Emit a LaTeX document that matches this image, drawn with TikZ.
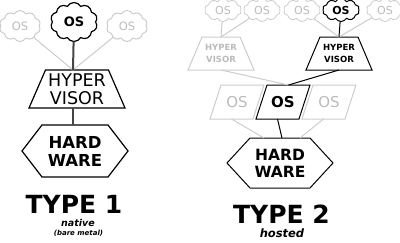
\documentclass[tikz,border=0pt]{standalone}
\usepackage{fontspec}
\setmainfont{DejaVu Sans}
\usetikzlibrary{shapes.symbols}
\definecolor{lg}{HTML}{CCCCCC}
\definecolor{lgt}{HTML}{BBBBBB}
\definecolor{dk}{HTML}{444444}
\begin{document}
\begin{tikzpicture}[x=1pt,y=-1pt,
  cl/.style={cloud, cloud puffs=10, cloud puff arc=120, cloud ignores aspect, inner sep=0pt, outer sep=0pt, draw},
  bigcl/.style={cl, minimum width=47pt, minimum height=39pt, line width=1.2pt, font=\fontsize{13}{13}\selectfont\bfseries},
  gbigcl/.style={cl, minimum width=41pt, minimum height=31pt, draw=lg, line width=1pt, text=lgt, font=\fontsize{11.5}{11.5}\selectfont},
  smcl/.style={cl, minimum width=37pt, minimum height=23pt, line width=1pt, font=\fontsize{11}{11}\selectfont\bfseries},
  gsmcl/.style={cl, minimum width=37pt, minimum height=23pt, draw=lg, line width=0.8pt, text=lgt, font=\fontsize{11}{11}\selectfont},
  shapebox/.style={inner sep=0pt, outer sep=0pt, align=center},
  glink/.style={draw=lg, line width=1pt},
  dlink/.style={draw=dk, line width=2pt},
  blink/.style={draw=black, line width=1pt},
  outline/.style={draw=black, line width=1.2pt, line join=miter},
  goutline/.style={draw=lg, line width=1pt, line join=miter},
  title/.style={inner sep=0pt, font=\fontsize{25}{25}\selectfont\bfseries},
  sub/.style={inner sep=0pt, font=\bfseries\itshape},
]
\useasboundingbox (0,0) rectangle (400,242);

% ---------------- TYPE 1 ----------------
\node[gbigcl] (c1a) at (20,26) {OS};
\node[bigcl]  (c1b) at (74,22) {OS};
\node[gbigcl] (c1c) at (127,26) {OS};

\node[shapebox, minimum width=96pt, minimum height=38pt, font=\fontsize{17.5}{18.5}\selectfont] (hv1) at (77,89) {HYPER\\VISOR};
\draw[outline] ([xshift=16.5pt]hv1.north west) -- ([xshift=-16.5pt]hv1.north east) -- (hv1.south east) -- (hv1.south west) -- cycle;

\node[shapebox, minimum width=106pt, minimum height=52pt, font=\fontsize{16.5}{18}\selectfont\bfseries] (hw1) at (75,151) {HARD\\WARE};
\draw[outline] ([xshift=20pt]hw1.north west) -- ([xshift=-20pt]hw1.north east) -- (hw1.east) -- ([xshift=-20pt]hw1.south east) -- ([xshift=20pt]hw1.south west) -- (hw1.west) -- cycle;

\draw[glink] (c1a) -- ([xshift=-4pt]hv1.north);
\draw[glink] (c1c) -- ([xshift=-4pt]hv1.north);
\draw[dlink] (c1b) -- ([xshift=-4pt]hv1.north);
\draw[dlink] ([xshift=-4pt]hv1.south) -- ([xshift=-2pt]hw1.north);

\node[title] (ty1) at (74,204) {TYPE 1};
\node[sub, font=\fontsize{9.5}{9.5}\selectfont\bfseries\itshape] (nat) at (78,222.5) {native};
\node[sub, font=\fontsize{7}{7}\selectfont\bfseries\itshape] (bare) at (78.5,233) {(bare metal)};

% ---------------- TYPE 2 ----------------
\node[gsmcl] (t1) at (223,10) {OS};
\node[gsmcl] (t2) at (262,10) {OS};
\node[gsmcl] (t3) at (302,10) {OS};
\node[smcl]  (t4) at (341,10) {OS};
\node[gsmcl] (t5) at (385,10) {OS};

\node[shapebox, minimum width=66pt, minimum height=33pt, text=lgt, font=\fontsize{8.5}{12}\selectfont\bfseries] (hv2a) at (221,53.5) {HYPER\\VISOR};
\draw[goutline] ([xshift=14pt]hv2a.north west) -- ([xshift=-14pt]hv2a.north east) -- (hv2a.south east) -- (hv2a.south west) -- cycle;
\node[shapebox, minimum width=66pt, minimum height=33pt, font=\fontsize{8.5}{12}\selectfont\bfseries] (hv2b) at (339,53.5) {HYPER\\VISOR};
\draw[outline, line width=1pt] ([xshift=14pt]hv2b.north west) -- ([xshift=-14pt]hv2b.north east) -- (hv2b.south east) -- (hv2b.south west) -- cycle;

\node[shapebox, minimum width=54pt, minimum height=34pt, text=lgt, font=\fontsize{15}{15}\selectfont] (p1) at (237,102) {OS};
\draw[goutline] ([xshift=11pt]p1.north west) -- (p1.north east) -- ([xshift=-11pt]p1.south east) -- (p1.south west) -- cycle;
\node[shapebox, minimum width=54pt, minimum height=34pt, font=\fontsize{15}{15}\selectfont\bfseries] (p2) at (283,102) {OS};
\draw[outline, line width=1pt] ([xshift=11pt]p2.north west) -- (p2.north east) -- ([xshift=-11pt]p2.south east) -- (p2.south west) -- cycle;
\node[shapebox, minimum width=54pt, minimum height=34pt, text=lgt, font=\fontsize{15}{15}\selectfont] (p3) at (329,102) {OS};
\draw[goutline] ([xshift=11pt]p3.north west) -- (p3.north east) -- ([xshift=-11pt]p3.south east) -- (p3.south west) -- cycle;

\node[shapebox, minimum width=106pt, minimum height=50pt, font=\fontsize{15.5}{17}\selectfont\bfseries] (hw2) at (280,163) {HARD\\WARE};
\draw[outline, line width=1pt] ([xshift=23pt]hw2.north west) -- ([xshift=-23pt]hw2.north east) -- (hw2.east) -- ([xshift=-23pt]hw2.south east) -- ([xshift=23pt]hw2.south west) -- (hw2.west) -- cycle;

\draw[glink] (t1) -- (hv2a.north);
\draw[glink] (t2) -- (hv2a.north);
\draw[glink] (t3) -- (hv2b.north);
\draw[glink] (t5) -- (hv2b.north);
\draw[blink] (t4) -- (hv2b.north);
\draw[glink] (hv2a.south) -- ([xshift=5.5pt]p2.north);
\draw[blink] (hv2b.south) -- ([xshift=5.5pt]p2.north);
\draw[glink] ([xshift=-5.5pt]p1.south) -- ([xshift=-16pt]hw2.north);
\draw[glink] ([xshift=-5.5pt]p3.south) -- ([xshift=20pt]hw2.north);
\draw[blink] ([xshift=-5.5pt]p2.south) -- ([xshift=2pt]hw2.north);

\node[title] (ty2) at (281.5,214) {TYPE 2};
\node[sub, font=\fontsize{11.5}{11.5}\selectfont\bfseries\itshape] (hos) at (282,233.5) {hosted};
\end{tikzpicture}
\end{document}
